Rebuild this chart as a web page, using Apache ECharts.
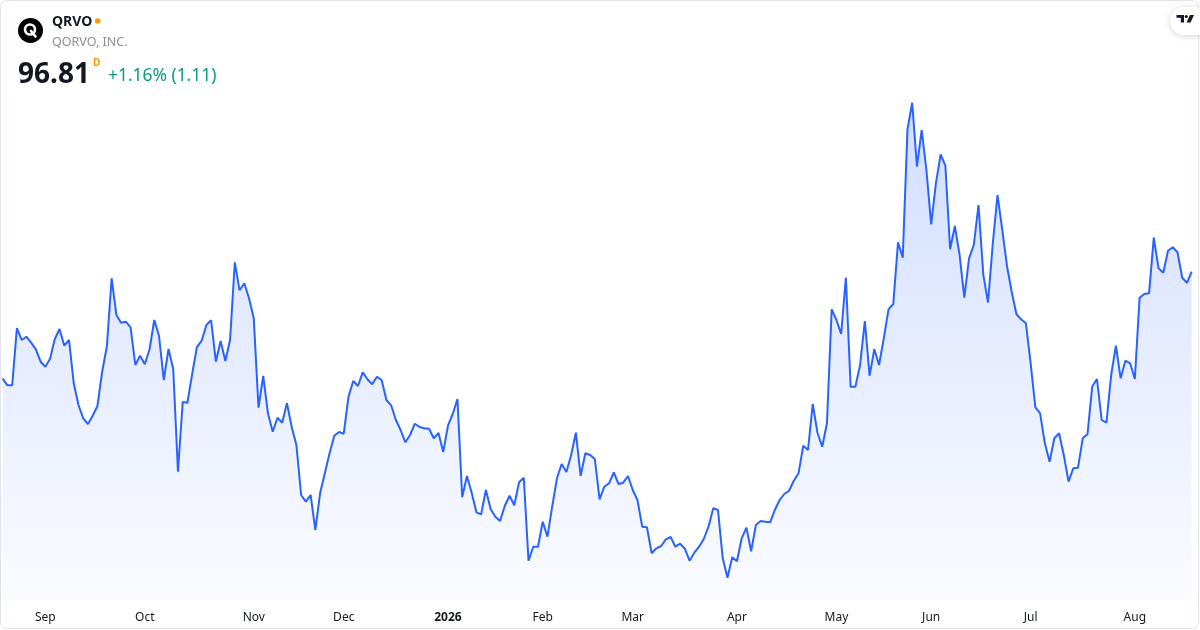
<!DOCTYPE html>
<html>
<head>
<meta charset="utf-8">
<script src="https://cdn.jsdelivr.net/npm/echarts@6/dist/echarts.min.js"></script>
<style>
html,body{margin:0;padding:0;background:#ffffff;}
#chart{width:1200px;height:630px;}
</style>
</head>
<body>
<div id="chart"></div>
<script>
// Daily closing prices
var prices = [
86.11,85.45,85.45,91.18,89.98,90.31,89.71,89.05,87.81,87.31,
88.11,90.08,91.08,89.41,89.98,85.65,83.48,82.15,81.58,82.41,
83.38,86.81,89.38,96.15,92.48,91.71,91.81,91.25,87.48,88.41,
87.55,89.05,91.98,90.38,85.98,89.08,87.08,76.81,83.78,83.71,
86.58,89.26,89.91,91.48,91.95,87.81,89.88,87.88,89.98,97.75,
94.95,95.65,94.15,92.15,83.21,86.38,82.65,80.81,82.21,81.71,
83.65,81.31,79.48,74.48,73.81,74.48,70.98,74.65,76.65,78.65,
80.41,80.78,80.61,84.31,85.88,85.38,86.75,86.05,85.55,86.31,
85.98,83.98,83.45,81.98,80.98,79.75,80.48,81.61,81.28,81.15,
81.11,80.15,80.68,78.78,81.41,82.58,84.08,74.25,76.38,74.71,
72.75,72.55,74.98,73.08,72.31,71.88,73.41,74.41,73.45,75.75,
76.21,67.91,69.31,69.31,71.81,70.31,73.31,76.15,77.58,76.78,
78.48,80.71,76.38,78.65,78.48,78.08,74.05,75.31,75.65,76.75,
75.58,75.71,76.38,74.98,73.98,71.31,71.25,68.65,69.15,69.38,
70.05,70.28,69.31,69.61,69.11,67.91,68.71,69.31,70.08,71.31,
73.15,72.98,68.15,66.21,68.25,67.85,70.15,71.21,68.85,71.48,
71.88,71.81,71.75,72.98,73.98,74.58,74.91,75.91,76.65,79.41,
78.98,83.58,80.71,79.31,81.65,93.05,91.98,90.58,96.21,85.31,
85.31,87.48,91.88,86.41,89.05,87.48,90.15,93.05,93.58,99.75,
98.21,111.05,113.71,107.31,110.98,106.98,101.55,105.65,108.55,107.41,
99.05,101.38,98.48,94.21,98.15,99.48,103.48,96.55,93.71,99.58,
104.48,101.05,97.41,94.81,92.55,92.05,91.65,87.65,83.25,82.65,
79.65,77.81,80.15,80.65,78.48,75.81,77.15,77.21,80.15,80.55,
85.31,86.08,81.98,81.71,86.48,89.41,86.15,87.91,87.65,86.08,
94.21,94.58,94.65,100.21,97.15,96.71,98.91,99.25,98.75,96.20,
95.70,96.81
];
// Month tick positions (index of first trading day) and labels
var tickIndex = [9, 30, 53, 72, 94, 114, 133, 155, 176, 196, 217, 239];
var tickLabels = ['Sep','Oct','Nov','Dec','2026','Feb','Mar','Apr','May','Jun','Jul','Aug'];
var yearLabels = ['2026'];

var symbol = 'QRVO';
var company = 'QORVO, INC.';
var lastPrice = '96.81';
var changeText = '+1.16% (1.11)';

var categories = prices.map(function (_, i) { return String(i); });
var labelMap = {};
tickIndex.forEach(function (ix, k) { labelMap[ix] = tickLabels[k]; });

var FONT = '"Noto Sans", "Open Sans", sans-serif';
var chart = echarts.init(document.getElementById('chart'), null, {renderer: 'canvas'});

chart.setOption({
  backgroundColor: '#ffffff',
  animation: false,
  grid: {left: 2.7, right: 8.3, top: 59.8, bottom: 30.2, containLabel: false},
  xAxis: {
    type: 'category',
    data: categories,
    boundaryGap: false,
    axisLine: {show: false},
    axisTick: {show: false},
    splitLine: {show: false},
    axisLabel: {
      interval: function (index) { return labelMap[index] !== undefined; },
      margin: 12,
      fontFamily: FONT,
      fontSize: 12,
      color: '#131722',
      formatter: function (value, index) {
        var t = labelMap[index];
        if (t === undefined) return '';
        return yearLabels.indexOf(t) >= 0 ? '{b|' + t + '}' : t;
      },
      rich: {
        b: {fontWeight: 'bold', fontSize: 12, fontFamily: FONT, color: '#131722'}
      }
    }
  },
  yAxis: {
    type: 'value',
    min: 64,
    max: 118,
    show: false,
    splitLine: {show: false}
  },
  series: [{
    type: 'line',
    data: prices,
    showSymbol: false,
    symbol: 'none',
    lineStyle: {color: '#2962FF', width: 2},
    areaStyle: {
      color: new echarts.graphic.LinearGradient(0, 0, 0, 1, [
        {offset: 0, color: 'rgba(41,98,255,0.30)'},
        {offset: 1, color: 'rgba(41,98,255,0.03)'}
      ])
    }
  }],
  graphic: [
    // card border
    {type: 'rect', shape: {x: 0.5, y: 0.5, width: 1198, height: 628, r: 6},
     style: {fill: 'none', stroke: '#e0e3eb', lineWidth: 1}, z: 100, silent: true},
    // logo
    {type: 'circle', shape: {cx: 30.5, cy: 30.5, r: 12.5}, style: {fill: '#000000'}, z: 100},
    {type: 'circle', shape: {cx: 30, cy: 29.5, r: 5}, style: {fill: 'none', stroke: '#ffffff', lineWidth: 2.6}, z: 101},
    {type: 'line', shape: {x1: 31, y1: 31, x2: 35.5, y2: 36.5}, style: {stroke: '#ffffff', lineWidth: 2.6, lineCap: 'round'}, z: 101},
    // symbol
    {type: 'text', left: 52, top: 15, z: 100,
     style: {text: symbol, fontFamily: FONT, fontSize: 14, fontWeight: 'bold', fill: '#131722'}},
    {type: 'circle', shape: {cx: 97.7, cy: 21, r: 2.8}, style: {fill: '#ff9800'}, z: 100},
    {type: 'text', left: 52, top: 36, z: 100,
     style: {text: company, fontFamily: FONT, fontSize: 12.5, fill: '#8c8f99'}},
    // price
    {type: 'text', left: 18, top: 61, z: 100,
     style: {text: lastPrice, fontFamily: FONT, fontSize: 28, fontWeight: 'bold', fill: '#131722'}},
    {type: 'text', left: 93, top: 58, z: 100,
     style: {text: 'D', fontFamily: FONT, fontSize: 10, fontWeight: 'bold', fill: '#ff9800'}},
    {type: 'text', left: 108, top: 68, z: 100,
     style: {text: changeText, fontFamily: FONT, fontSize: 17.4, fill: '#089981'}},
    // TradingView badge
    {type: 'rect', shape: {x: 1170, y: 7, width: 40, height: 28, r: 14},
     style: {fill: '#ffffff', shadowBlur: 6, shadowColor: 'rgba(0,0,0,0.18)', shadowOffsetY: 1}, z: 100},
    {type: 'rect', shape: {x: 1176.5, y: 15, width: 7.5, height: 2.8}, style: {fill: '#131722'}, z: 101},
    {type: 'rect', shape: {x: 1180.8, y: 15, width: 3.2, height: 7.5}, style: {fill: '#131722'}, z: 101},
    {type: 'circle', shape: {cx: 1186.3, cy: 16.5, r: 1.6}, style: {fill: '#131722'}, z: 101},
    {type: 'polygon', shape: {points: [[1190, 15], [1194, 15], [1190.5, 22.5], [1186.5, 22.5]]}, style: {fill: '#131722'}, z: 101}
  ]
});
</script>
</body>
</html>
